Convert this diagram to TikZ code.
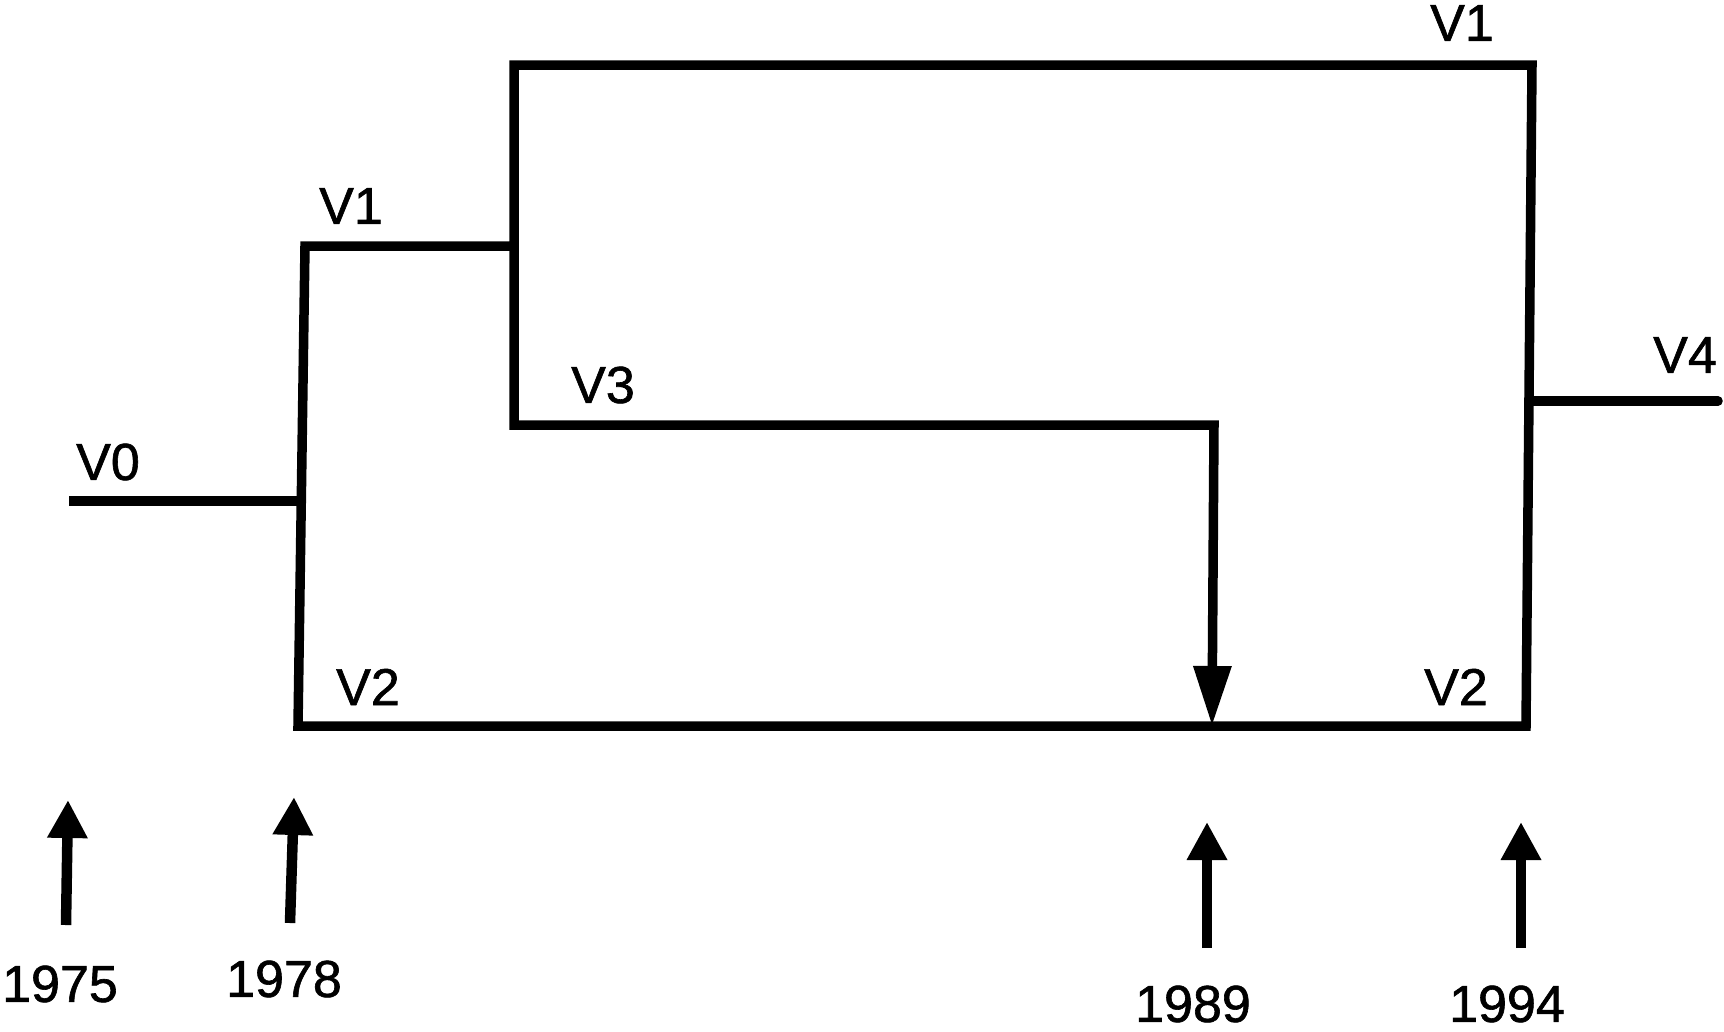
\documentclass[tikz,border=0pt]{standalone}
\usepackage{fontspec}
\setmainfont{Liberation Sans}[FakeBold=1.2]
\usetikzlibrary{arrows.meta}
\begin{document}
\begin{tikzpicture}[x=1pt,y=-1pt,
  wire/.style={line width=9.5pt,line join=miter,line cap=butt},
  lbl/.style={inner sep=0pt,font=\fontsize{52}{60}\selectfont},
  yeararrow/.style={line width=10.5pt,-{Triangle[length=38pt,width=38pt]}},
  downarrow/.style={-{Triangle[length=60pt,width=36pt]}}]
\useasboundingbox (0,0) rectangle (1724,1031);
% junction coordinates
\coordinate (v0s) at (69,501);
\coordinate (v0e) at (301,501);
\coordinate (ltop) at (305,246);
\coordinate (lbot) at (298,726);
\coordinate (v1end) at (514,246);
\coordinate (utl) at (514,65);
\coordinate (ubl) at (514,425);
\coordinate (tr) at (1532,65);
\coordinate (br) at (1526,726);
\coordinate (v3c) at (1214,425);
\coordinate (tip) at (1212,726);
\coordinate (v4s) at (1529,401);
\coordinate (v4e) at (1718,401);
% main lines
\draw[wire,downarrow] (v1end) -- (ltop) -- (lbot) -- (br) -- (tr) -- (utl) -- (ubl) -- (v3c) -- (tip);
\draw[wire] (v0s) -- (v0e);
\draw[wire,line cap=round] (v4s) -- (v4e);
% labels
\node[lbl] (lv0) at (108,462) {V0};
\node[lbl] (lv1a) at (351,206) {V1};
\node[lbl] (lv1b) at (1462,23) {V1};
\node[lbl] (lv3) at (603,385) {V3};
\node[lbl] (lv2a) at (368,687) {V2};
\node[lbl] (lv2b) at (1456,687) {V2};
\node[lbl] (lv4) at (1685,355) {V4};
% year arrows
\coordinate (a1b) at (66,925); \coordinate (a1t) at (68,800);
\coordinate (a2b) at (290,923); \coordinate (a2t) at (294,797);
\coordinate (a3b) at (1207,948); \coordinate (a3t) at (1207,822);
\coordinate (a4b) at (1521,948); \coordinate (a4t) at (1521,822);
\draw[yeararrow] (a1b) -- (a1t);
\draw[yeararrow] (a2b) -- (a2t);
\draw[yeararrow] (a3b) -- (a3t);
\draw[yeararrow] (a4b) -- (a4t);
\node[lbl] (y1) at (60,984) {1975};
\node[lbl] (y2) at (284,979) {1978};
\node[lbl] (y3) at (1193,1004) {1989};
\node[lbl] (y4) at (1507,1004) {1994};
\end{tikzpicture}
\end{document}
